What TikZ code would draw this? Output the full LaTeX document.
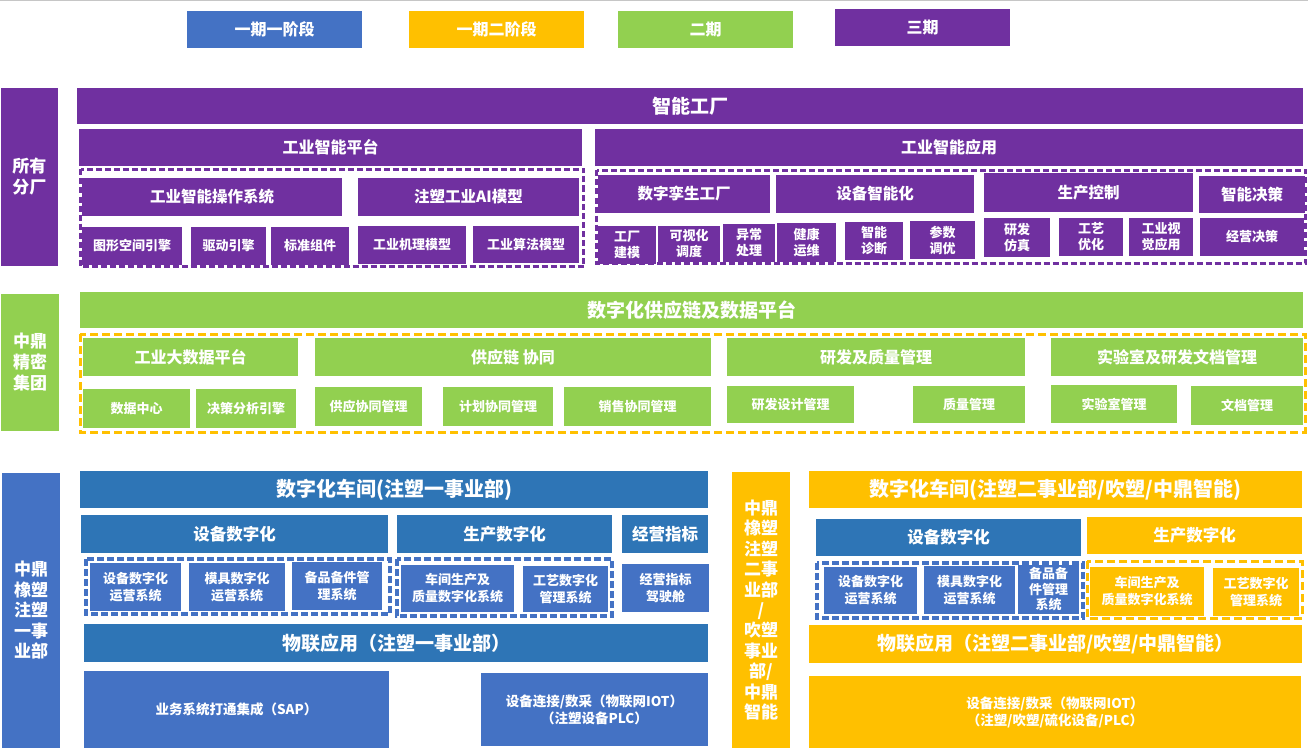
\documentclass[tikz,border=0pt]{standalone}
\usepackage{fontspec}
\setmainfont{Noto Sans CJK SC}
\definecolor{purp}{HTML}{7030A0}
\definecolor{blu}{HTML}{4472C4}
\definecolor{dblu}{HTML}{2E75B6}
\definecolor{yel}{HTML}{FFC000}
\definecolor{grn}{HTML}{92D050}
\tikzset{
  bx/.style={rectangle, inner sep=0pt, outer sep=0pt, text=white, align=center, draw=none},
  purpframe/.style={draw=purp, line width=3.5pt, dash pattern=on 6pt off 3pt},
  yelframe/.style={draw=yel, line width=3pt, dash pattern=on 8pt off 4pt},
  bluframe/.style={draw=blu, line width=3.5pt, dash pattern=on 7pt off 3pt},
}
\newcommand\bx[9]{%
  \node[bx, fill=#6, minimum width={(#4-#2)*1pt}, minimum height={(#5-#3)*1pt},
        font=\bfseries\fontsize{#7pt}{#8pt}\selectfont] (#1) at ({(#2+#4)/2},{(#3+#5)/2}) {#9};}
\begin{document}
\begin{tikzpicture}[x=1pt,y=-1pt]
\useasboundingbox[fill=white] (0,0) rectangle (1308,754);
\draw[gray!45, line width=1.2pt] (0,0.6) -- (1308,0.6);
% legend
\bx{lg1}{187}{11}{362}{48}{blu}{16}{20}{一期一阶段}
\bx{lg2}{409}{11}{584}{48}{yel}{16}{20}{一期二阶段}
\bx{lg3}{618}{11}{793}{48}{grn}{16}{20}{二期}
\bx{lg4}{835}{9}{1010}{46}{purp}{16}{20}{三期}
% purple section
\draw[purpframe] (80.5,169.5) rectangle (583.5,266.5);
\draw[purpframe] (596.5,170.5) rectangle (1305.5,263.5);
\bx{sy}{1}{88}{58}{266}{purp}{17}{21}{所有\\分厂}
\bx{znf}{77}{88}{1303}{124}{purp}{19}{22}{智能工厂}
\bx{ptf}{79}{129}{582}{166}{purp}{16}{20}{工业智能平台}
\bx{app}{595}{129}{1303}{166}{purp}{16}{20}{工业智能应用}
\bx{os}{82}{178}{342}{216}{purp}{15.5}{19}{工业智能操作系统}
\bx{ai}{358}{178}{579}{216}{purp}{15.5}{19}{注塑工业AI模型}
\bx{p1}{82}{227}{182}{265}{purp}{13}{16}{图形空间引擎}
\bx{p2}{191}{227}{266}{265}{purp}{13}{16}{驱动引擎}
\bx{p3}{271}{227}{349}{265}{purp}{13}{16}{标准组件}
\bx{p4}{358}{226}{466}{264}{purp}{13}{16}{工业机理模型}
\bx{p5}{473}{226}{579}{263}{purp}{13}{16}{工业算法模型}
\bx{a1}{598}{175}{770}{213}{purp}{15.5}{19}{数字孪生工厂}
\bx{a2}{776}{175}{974}{213}{purp}{15.5}{19}{设备智能化}
\bx{a3}{984}{173}{1193}{212}{purp}{15.5}{19}{生产控制}
\bx{a4}{1199}{176}{1305}{213}{purp}{15.5}{19}{智能决策}
\bx{b1}{598}{226}{656}{264}{purp}{13}{16}{工厂\\建模}
\bx{b2}{658}{226}{720}{262}{purp}{13}{16}{可视化\\调度}
\bx{b3}{723}{224}{775}{262}{purp}{13}{16}{异常\\处理}
\bx{b4}{777}{223}{836}{262}{purp}{13}{16}{健康\\运维}
\bx{b5}{845}{222}{903}{260}{purp}{13}{16}{智能\\诊断}
\bx{b6}{910}{221}{975}{259}{purp}{13}{16}{参数\\调优}
\bx{b7}{984}{218}{1050}{257}{purp}{13}{16}{研发\\仿真}
\bx{b8}{1059}{218}{1123}{256}{purp}{13}{16}{工艺\\优化}
\bx{b9}{1129}{218}{1193}{256}{purp}{13}{16}{工业视\\觉应用}
\bx{b10}{1200}{218}{1304}{256}{purp}{13}{16}{经营决策}
% green section
\draw[yelframe] (80,334) rectangle (1305,432);
\bx{zj}{1}{294}{59}{431}{grn}{17}{21}{中鼎\\精密\\集团}
\bx{gyl}{80}{292}{1303}{328}{grn}{19}{22}{数字化供应链及数据平台}
\bx{g1}{83}{338}{298}{376}{grn}{16}{20}{工业大数据平台}
\bx{g2}{315}{338}{711}{376}{grn}{16}{20}{供应链 协同}
\bx{g3}{727}{338}{1025}{376}{grn}{16}{20}{研发及质量管理}
\bx{g4}{1051}{338}{1303}{376}{grn}{16}{20}{实验室及研发文档管理}
\bx{h1}{83}{389}{190}{428}{grn}{13}{16}{数据中心}
\bx{h2}{196}{389}{296}{428}{grn}{13}{16}{决策分析引擎}
\bx{h3}{315}{387}{422}{426}{grn}{13}{16}{供应协同管理}
\bx{h4}{443}{387}{553}{426}{grn}{13}{16}{计划协同管理}
\bx{h5}{564}{387}{711}{426}{grn}{13}{16}{销售协同管理}
\bx{h6}{727}{386}{854}{423}{grn}{13}{16}{研发设计管理}
\bx{h7}{913}{386}{1025}{423}{grn}{13}{16}{质量管理}
\bx{h8}{1051}{385}{1177}{423}{grn}{13}{16}{实验室管理}
\bx{h9}{1191}{386}{1303}{425}{grn}{13}{16}{文档管理}
% blue section
\draw[bluframe] (86,559) rectangle (390,614);
\draw[bluframe] (397,559) rectangle (612,616);
\bx{v1}{2}{473}{60}{748}{blu}{17}{20.5}{中鼎\\橡塑\\注塑\\一事\\业部}
\bx{c1}{80}{471}{708}{508}{dblu}{20}{24}{数字化车间(注塑一事业部)}
\bx{c2}{81}{515}{388}{553}{dblu}{16.5}{20}{设备数字化}
\bx{c3}{397}{515}{612}{553}{dblu}{16.5}{20}{生产数字化}
\bx{c4}{622}{515}{708}{553}{dblu}{16.5}{20}{经营指标}
\bx{d1}{90}{563}{181}{611}{blu}{13}{17}{设备数字化\\运营系统}
\bx{d2}{189}{563}{285}{611}{blu}{13}{17}{模具数字化\\运营系统}
\bx{d3}{292}{562}{382}{610}{blu}{13}{17}{备品备件管\\理系统}
\bx{d4}{401}{565}{514}{612}{blu}{13}{17}{车间生产及\\质量数字化系统}
\bx{d5}{523}{566}{608}{612}{blu}{13}{17}{工艺数字化\\管理系统}
\bx{d6}{622}{564}{709}{612}{blu}{13}{17}{经营指标\\驾驶舱}
\bx{c5}{84}{624}{708}{662}{dblu}{19}{22}{物联应用（注塑一事业部）}
\bx{e1}{84}{671}{389}{748}{blu}{13.5}{17}{业务系统打通集成（SAP）}
\bx{e2}{481}{673}{708}{746}{blu}{13.5}{17}{设备连接/数采（物联网IOT）\\（注塑设备PLC）}
% yellow section
\draw[bluframe] (817,563) rectangle (1083,618);
\draw[yelframe] (1087,561) rectangle (1302,618);
\bx{v2}{732}{472}{790}{748}{yel}{17}{20.4}{中鼎\\橡塑\\注塑\\二事\\业部\\/\\吹塑\\事业\\部/\\中鼎\\智能}
\bx{y1}{809}{471}{1302}{508}{yel}{20}{24}{数字化车间(注塑二事业部/吹塑/中鼎智能)}
\bx{y2}{816}{519}{1081}{556}{dblu}{16.5}{20}{设备数字化}
\bx{y3}{1087}{517}{1302}{554}{yel}{16.5}{20}{生产数字化}
\bx{z1}{824}{567}{917}{614}{blu}{13}{17}{设备数字化\\运营系统}
\bx{z2}{924}{566}{1015}{614}{blu}{13}{17}{模具数字化\\运营系统}
\bx{z3}{1018}{565}{1079}{614}{blu}{13}{15.5}{备品备\\件管理\\系统}
\bx{z4}{1090}{567}{1204}{616}{yel}{13}{17}{车间生产及\\质量数字化系统}
\bx{z5}{1213}{568}{1299}{616}{yel}{13}{17}{工艺数字化\\管理系统}
\bx{y4}{809}{625}{1302}{663}{yel}{19}{22}{物联应用（注塑二事业部/吹塑/中鼎智能）}
\bx{y5}{809}{676}{1301}{748}{yel}{13.5}{17}{设备连接/数采（物联网IOT）\\（注塑/吹塑/硫化设备/PLC）}
\end{tikzpicture}
\end{document}
